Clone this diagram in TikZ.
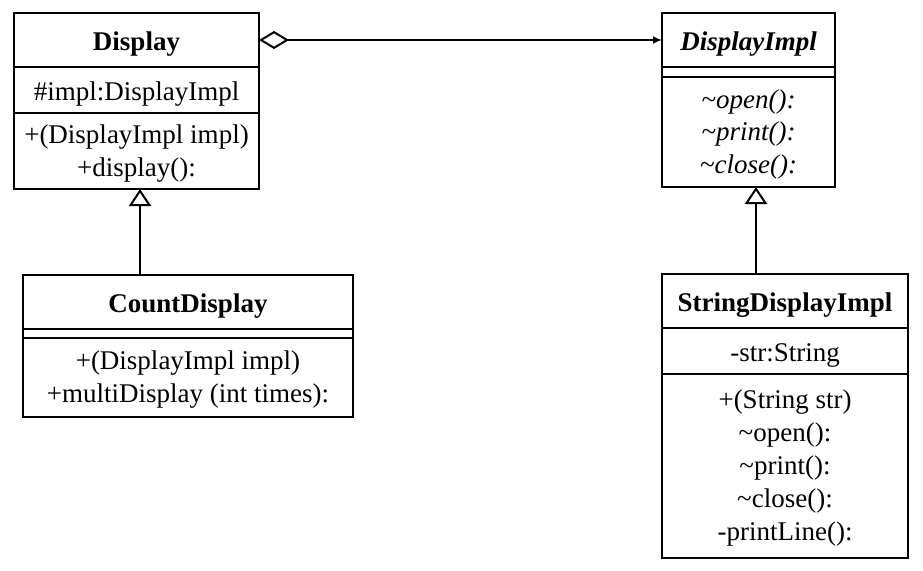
\documentclass[tikz,border=0pt]{standalone}
\usepackage{fontspec}
\setmainfont{Liberation Serif}
\usetikzlibrary{positioning,arrows.meta}

\tikzset{
  cls/.style={draw, line width=2pt, outer sep=0pt, inner sep=0pt, align=center,
    font=\fontsize{27}{33}\selectfont},
  field/.style={cls, execute at begin node={\rule{0pt}{27pt}}},
  title/.style={field, minimum height=54pt, font=\fontsize{27}{33}\selectfont\bfseries},
  inherit/.style={line width=2pt, -{Triangle[open,width=22pt,length=17pt]}},
  aggr/.style={line width=2pt, {Diamond[open,width=18pt,length=30pt]}-{Latex[length=9pt,width=8pt]}}
}

\newcommand{\tl}{\textasciitilde}
\newcommand{\ops}[1]{\raisebox{-2pt}[\height][\depth]{\begin{tabular}{@{}c@{}}#1\end{tabular}}}

\begin{document}
\begin{tikzpicture}[x=1pt,y=-1pt]
\useasboundingbox (0,0) rectangle (923,570);

\node[title, minimum width=245pt, anchor=north west] (dispTitle) at (14,13) {Display};
\node[field, minimum width=245pt, minimum height=46pt, below=0pt of dispTitle] (dispAttr) {\#impl:DisplayImpl};
\node[cls, minimum width=245pt, minimum height=76pt, below=0pt of dispAttr] (dispOps) {\ops{+(DisplayImpl impl)\\+display():}};

\node[title, minimum width=173pt, anchor=north west] (implTitle) at (662,13) {\itshape DisplayImpl};
\node[cls, minimum width=173pt, minimum height=10pt, below=0pt of implTitle] (implAttr) {};
\node[cls, minimum width=173pt, minimum height=110pt, below=0pt of implAttr, font=\fontsize{27}{32.5}\selectfont\itshape] (implOps) {\ops{\tl open():\\\tl print():\\\tl close():}};

\node[title, minimum width=330pt, anchor=north west] (cntTitle) at (23,275) {CountDisplay};
\node[cls, minimum width=330pt, minimum height=9pt, below=0pt of cntTitle] (cntAttr) {};
\node[cls, minimum width=330pt, minimum height=79pt, below=0pt of cntAttr] (cntOps) {\ops{+(DisplayImpl impl)\\+multiDisplay (int times):}};

\node[title, minimum width=246pt, anchor=north west] (strTitle) at (662,274) {StringDisplayImpl};
\node[field, minimum width=246pt, minimum height=46pt, below=0pt of strTitle] (strAttr) {-str:String};
\node[cls, minimum width=246pt, minimum height=184pt, below=0pt of strAttr] (strOps) {\ops{+(String str)\\\tl open():\\\tl print():\\\tl close():\\-printLine():}};

\coordinate (dispFoot) at ([xshift=3.5pt]dispOps.south);
\coordinate (implFoot) at ([xshift=7.5pt]implOps.south);

\draw[aggr] (dispTitle.east) -- (implTitle.west);
\draw[inherit] (cntTitle.north -| dispFoot) -- (dispFoot);
\draw[inherit] (strTitle.north -| implFoot) -- (implFoot);
\end{tikzpicture}
\end{document}
